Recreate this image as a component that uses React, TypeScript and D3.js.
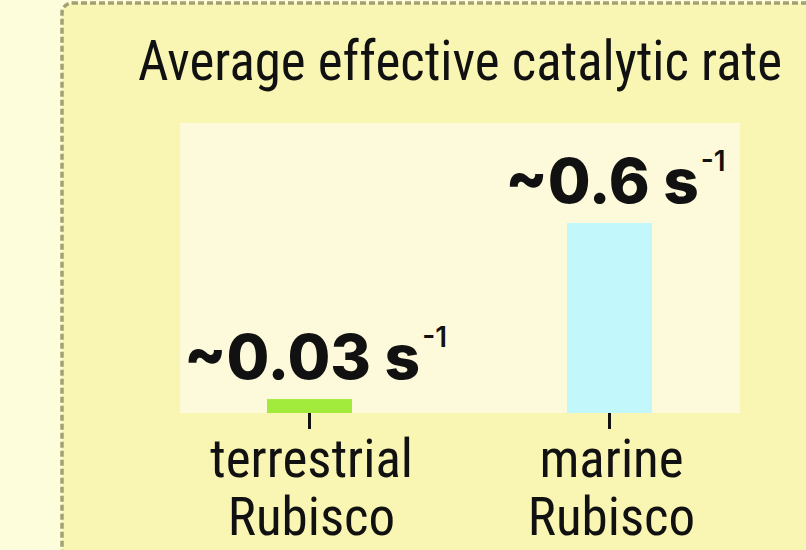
import React, { useEffect } from "react";
import * as d3 from "d3";

const categories = ["terrestrial", "marine"];
const categoryLines = [
  ["terrestrial", "Rubisco"],
  ["marine", "Rubisco"],
];
const rateValues = [0.044, 0.6];
const rateLabels = ["~0.03 s", "~0.6 s"];
const rateExponent = ["-1", "-1"];
const barColors = ["#a2ea3c", "#c2f7fc"];
const title = "Average effective catalytic rate";

const W = 806;
const H = 550;

export default function App() {
  useEffect(() => {
    document.body.style.margin = "0";
  }, []);

  const x = d3.scalePoint<string>().domain(categories).range([159.5, 759.5]).padding(0.5);
  const y = d3.scaleLinear().domain([0, 0.6]).range([413, 223]);
  const barW = 85;
  const condensed = "'Liberation Sans Narrow', 'Roboto Condensed', 'DejaVu Sans Condensed', 'Liberation Sans', sans-serif";
  const bold = "Inter, 'Open Sans', sans-serif";

  return (
    <svg width={W} height={H} style={{ display: "block" }}>
      <rect x={0} y={0} width={W} height={H} fill="#fdfcdb" />
      <rect x={62} y={3} width={820} height={620} rx={10} fill="#f9f5b2" stroke="#a3a074" strokeWidth={3.5} strokeDasharray="6 3" />
      <text x={460} y={80} textAnchor="middle" fontFamily={condensed} fontSize={55} fill="#111" textLength={644} lengthAdjust="spacingAndGlyphs">
        {title}
      </text>
      <rect x={180} y={123} width={560} height={290} fill="#fdfadb" />
      {categories.map((c, i) => {
        const cx = x(c)!;
        const top = y(rateValues[i]);
        return (
          <g key={c}>
            <rect x={cx - barW / 2} y={top} width={barW} height={y(0) - top} fill={barColors[i]} />
            <line x1={cx} x2={cx} y1={413} y2={429} stroke="#111" strokeWidth={3} />
            <text x={cx + 6} y={top - 20} textAnchor="middle" fontFamily={bold} fontWeight={800} fontSize={62} fill="#111">
              {rateLabels[i]}
              <tspan dx={2} dy={-32} fontSize={28} fontWeight={600}>{rateExponent[i]}</tspan>
            </text>
            {categoryLines[i].map((t, j) => (
              <text key={j} x={cx + 2} y={477 + j * 58} textAnchor="middle" fontFamily={condensed} fontSize={53} fill="#111">
                {t}
              </text>
            ))}
          </g>
        );
      })}
    </svg>
  );
}
